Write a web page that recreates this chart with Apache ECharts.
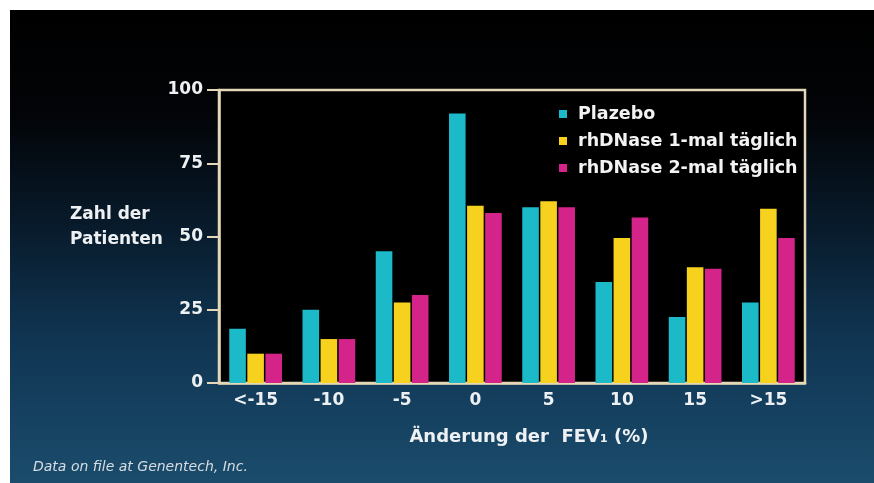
<!DOCTYPE html>
<html>
<head>
<meta charset="utf-8">
<script src="https://cdn.jsdelivr.net/npm/echarts@6/dist/echarts.min.js"></script>
<style>
html,body{margin:0;padding:0;background:#fff;}
#c{width:874px;height:483px;}
</style>
</head>
<body>
<div id="c"></div>
<script>
const categories = ['<-15', '-10', '-5', '0', '5', '10', '15', '>15'];
const plazebo = [18.5, 25, 45, 92, 60, 34.5, 22.5, 27.5];
const rhOnce = [10, 15, 27.5, 60.5, 62, 49.5, 39.5, 59.5];
const rhTwice = [10, 15, 30, 58, 60, 56.5, 39, 49.5];
const seriesNames = ['Plazebo', 'rhDNase 1-mal täglich', 'rhDNase 2-mal täglich'];
const yTicks = [0, 25, 50, 75, 100];

const colors = ['#1cbac9', '#f6d21f', '#d42389'];
const frame = '#e4d8b8';
const textFont = 'DejaVu Sans';

const chart = echarts.init(document.getElementById('c'));
const mk = (name, data, color) => ({
  name, type: 'bar', data,
  itemStyle: { color },
  barCategoryGap: '28%', barGap: '9%'
});

chart.setOption({
  backgroundColor: '#ffffff',
  animation: false,
  graphic: [{
    type: 'rect', z: -100, silent: true,
    shape: { x: 10, y: 10, width: 864, height: 473 },
    style: {
      fill: new echarts.graphic.LinearGradient(0, 0, 0, 1, [
        { offset: 0, color: '#000000' },
        { offset: 0.22, color: '#020407' },
        { offset: 0.45, color: '#081a2a' },
        { offset: 0.7, color: '#103553' },
        { offset: 1, color: '#1b4c6c' }
      ])
    }
  }],
  title: [
    {
      text: 'Zahl der\nPatienten', left: 70, top: 202, padding: 0,
      textStyle: { color: '#eef1f3', fontFamily: textFont, fontWeight: 'bold', fontSize: 17, lineHeight: 25 }
    },
    {
      text: 'Data on file at Genentech, Inc.', left: 33, top: 460, padding: 0,
      textStyle: { color: '#d6dde3', fontFamily: textFont, fontStyle: 'italic', fontWeight: 'normal', fontSize: 14 }
    }
  ],
  legend: {
    orient: 'vertical', left: 554, top: 99,
    itemWidth: 8, itemHeight: 8, itemGap: 7,
    icon: 'rect',
    data: seriesNames,
    textStyle: { color: '#f3f3f3', fontFamily: textFont, fontWeight: 'bold', fontSize: 17.5, lineHeight: 20, padding: [0, 0, 0, 6] }
  },
  grid: {
    left: 219, top: 90, right: 69, height: 293,
    show: true, backgroundColor: '#000000', borderColor: frame, borderWidth: 2.5
  },
  xAxis: {
    type: 'category', data: categories,
    axisLine: { lineStyle: { color: frame, width: 2.5 } },
    axisTick: { show: false },
    axisLabel: { color: '#eef1f3', fontFamily: textFont, fontWeight: 'bold', fontSize: 17, margin: 9 },
    name: 'Änderung der  FEV\u2081 (%)',
    nameLocation: 'middle', nameGap: 45,
    nameTextStyle: { color: '#eef1f3', fontFamily: textFont, fontWeight: 'bold', fontSize: 18, padding: [0, 0, 0, 34] }
  },
  yAxis: {
    type: 'value', min: yTicks[0], max: yTicks[yTicks.length - 1], interval: 25,
    axisLine: { show: true, lineStyle: { color: frame, width: 2.5 } },
    axisTick: { show: true, length: 12, lineStyle: { color: frame, width: 2 } },
    splitLine: { show: false },
    axisLabel: { color: '#eef1f3', fontFamily: textFont, fontWeight: 'bold', fontSize: 17, margin: 16 }
  },
  series: [
    mk(seriesNames[0], plazebo, colors[0]),
    mk(seriesNames[1], rhOnce, colors[1]),
    mk(seriesNames[2], rhTwice, colors[2])
  ]
});
</script>
</body>
</html>
